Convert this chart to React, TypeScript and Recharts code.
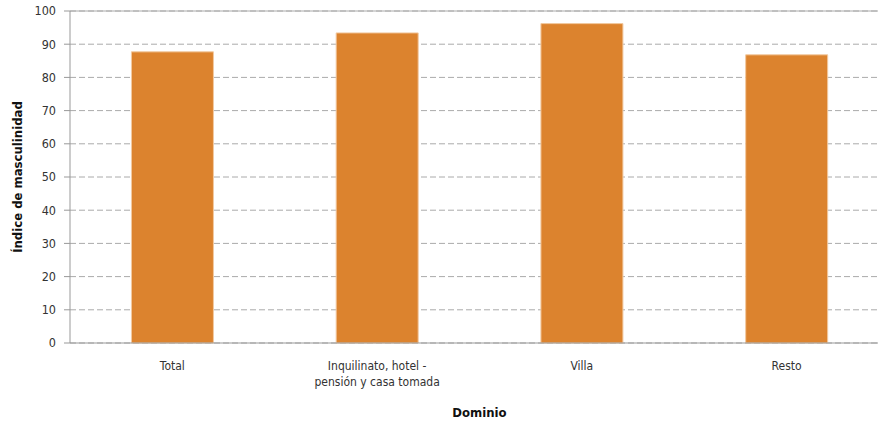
import { BarChart, Bar, XAxis, YAxis, CartesianGrid, ReferenceLine } from "recharts";

const categories = ["Total", "Inquilinato, hotel -\npensión y casa tomada", "Villa", "Resto"];
const values = [87.7, 93.4, 96.2, 86.8];
const yTicks = [0, 10, 20, 30, 40, 50, 60, 70, 80, 90, 100];

const data = categories.map((name, i) => ({ name, value: values[i] }));

const FONT = "'DejaVu Sans Condensed', 'DejaVu Sans', sans-serif";

function XTick(props: any) {
  const { x, y, payload } = props;
  const lines = String(payload.value).split("\n");
  return (
    <text x={x} y={y} textAnchor="middle" fontFamily={FONT} fontSize={12} fill="#333">
      {lines.map((l, i) => (
        <tspan key={i} x={x} dy={i === 0 ? 19 : 16}>
          {l}
        </tspan>
      ))}
    </text>
  );
}

export default function App() {
  return (
    <div style={{ position: "fixed", left: 0, top: 0, width: 878, height: 423, overflow: "hidden", background: "#fff" }}>
      <BarChart
        width={890}
        height={423}
        data={data}
        margin={{ top: 11, right: 1, bottom: 0, left: 0 }}
        barCategoryGap="30%"
      >
        <CartesianGrid vertical={false} stroke="#aaa" strokeDasharray="6 3" />
        <ReferenceLine y={100} stroke="#aaa" />
        <XAxis
          dataKey="name"
          height={80}
          tickLine={false}
          axisLine={{ stroke: "#999" }}
          tick={<XTick />}
          interval={0}
          label={(p: any) => {
            const vb = p.viewBox;
            return (
              <text x={vb.x + vb.width / 2} y={417} textAnchor="middle" fontFamily={FONT} fontSize={13} fontWeight="bold" fill="#111">
                Dominio
              </text>
            );
          }}
        />
        <YAxis
          width={70}
          domain={[0, 100]}
          ticks={yTicks}
          interval={0}
          tickSize={6}
          tickMargin={8}
          tickLine={{ stroke: "#999" }}
          axisLine={{ stroke: "#999" }}
          tick={{ fontFamily: FONT, fontSize: 12.5, fill: "#333" }}
          label={(p: any) => {
            const vb = p.viewBox;
            const cy = vb.y + vb.height / 2;
            return (
              <text x={22} y={cy} transform={`rotate(-90, 22, ${cy})`} textAnchor="middle" fontFamily={FONT} fontSize={13} fontWeight="bold" fill="#111">
                Índice de masculinidad
              </text>
            );
          }}
        />
        <Bar dataKey="value" fill="#DC832E" stroke="#F2C9A0" strokeWidth={1} isAnimationActive={false} />
      </BarChart>
    </div>
  );
}
